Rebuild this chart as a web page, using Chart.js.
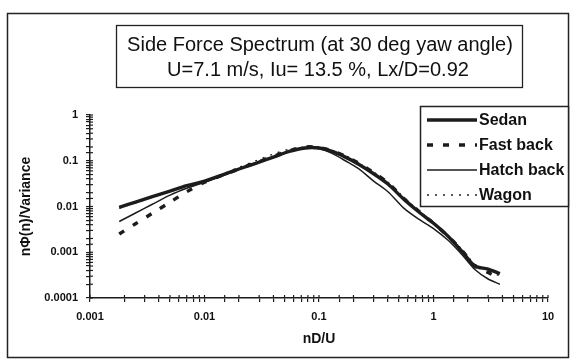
<!DOCTYPE html>
<html><head><meta charset="utf-8">
<script src="https://cdn.jsdelivr.net/npm/chart.js@4.4.0/dist/chart.umd.min.js"></script>
<style>html,body{margin:0;padding:0;background:#fff;}canvas{display:block;}</style>
</head><body>
<canvas id="c" width="571" height="361"></canvas>
<script>
const titleLines = ['Side Force Spectrum (at 30 deg yaw angle)', 'U=7.1 m/s, Iu= 13.5 %, Lx/D=0.92'];
const xTitle = 'nD/U';
const yTitle = 'nΦ(n)/Variance';
const xTickLabels = ['0.001', '0.01', '0.1', '1', '10'];
const yTickLabels = ['0.0001', '0.001', '0.01', '0.1', '1'];
const seriesNames = ['Sedan', 'Fast back', 'Hatch back', 'Wagon'];

const xValues = [0.0018, 0.0025, 0.0035, 0.005, 0.007, 0.01, 0.014, 0.02, 0.028, 0.04, 0.055, 0.075, 0.1, 0.13, 0.17, 0.22, 0.3, 0.4, 0.55, 0.75, 1.0, 1.35, 1.8, 2.3, 3.0, 3.8];
const sedan = [0.0096, 0.0125, 0.0164, 0.0218, 0.0285, 0.036, 0.048, 0.066, 0.088, 0.12, 0.16, 0.19, 0.19, 0.16, 0.12, 0.085, 0.052, 0.031, 0.0145, 0.0075, 0.0043, 0.0022, 0.001, 0.0005, 0.00043, 0.00034];
const fastBack = [0.0025, 0.0042, 0.0071, 0.0124, 0.021, 0.034, 0.047, 0.066, 0.09, 0.125, 0.165, 0.2, 0.195, 0.165, 0.125, 0.09, 0.055, 0.033, 0.015, 0.0078, 0.0043, 0.0022, 0.00105, 0.0005, 0.00036, 0.00027];
const hatchBack = [0.0047, 0.0072, 0.0112, 0.0177, 0.025, 0.034, 0.046, 0.065, 0.087, 0.12, 0.16, 0.185, 0.185, 0.145, 0.1, 0.068, 0.036, 0.021, 0.0092, 0.0052, 0.0033, 0.0018, 0.00085, 0.00042, 0.00026, 0.0002];
const wagon = [0.0092, 0.012, 0.0158, 0.021, 0.028, 0.036, 0.05, 0.072, 0.1, 0.14, 0.18, 0.2, 0.2, 0.17, 0.13, 0.09, 0.057, 0.034, 0.016, 0.008, 0.0045, 0.0023, 0.0011, 0.00055, 0.0004, 0.0003];

const FONT = '"Liberation Sans", Arial, Helvetica, sans-serif';
const INK = '#1c1c1c';
const pts = arr => xValues.map((x, i) => ({x: x, y: arr[i]}));

function decadeLabel(val, labels, minExp) {
  const lg = Math.log10(val);
  const r = Math.round(lg);
  if (Math.abs(lg - r) < 1e-6) return labels[r - minExp] || '';
  return '';
}

const framePlugin = {
  id: 'frameTitleLegend',
  afterDraw(chart) {
    const ctx = chart.ctx;
    ctx.save();
    ctx.strokeStyle = INK; ctx.lineWidth = 1.2; ctx.setLineDash([]);
    const xs = chart.scales.x, ys = chart.scales.y;
    const ca = chart.chartArea;
    xs.ticks.forEach(t => {
      const p = xs.getPixelForValue(t.value);
      ctx.beginPath(); ctx.moveTo(p, ca.bottom); ctx.lineTo(p, ca.bottom - 3); ctx.stroke();
    });
    ys.ticks.forEach(t => {
      const p = ys.getPixelForValue(t.value);
      ctx.beginPath(); ctx.moveTo(ca.left, p); ctx.lineTo(ca.left + 3, p); ctx.stroke();
    });
    ctx.lineWidth = 1.5; ctx.strokeStyle = '#222';
    ctx.strokeRect(7.5, 13.5, 561, 344);
    ctx.fillStyle = '#fff';
    ctx.fillRect(116, 25, 407, 63);
    ctx.lineWidth = 1.3;
    ctx.strokeRect(116.5, 25.5, 406, 62);
    ctx.fillStyle = '#111';
    ctx.font = '20px ' + FONT;
    ctx.textAlign = 'center'; ctx.textBaseline = 'alphabetic';
    ctx.fillText(titleLines[0], 320, 51);
    ctx.fillText(titleLines[1], 318, 76);
    const lx = 420, ly = 106, lw = 149, lh = 101;
    ctx.fillStyle = '#fff';
    ctx.fillRect(lx, ly, lw, lh);
    ctx.lineWidth = 1.5; ctx.strokeStyle = '#222';
    ctx.strokeRect(lx + 0.5, ly + 0.5, lw - 1, lh - 1);
    ctx.font = 'bold 16px ' + FONT;
    ctx.textAlign = 'left'; ctx.textBaseline = 'middle';
    chart.data.datasets.forEach((ds, i) => {
      const cy = 120 + i * 25;
      ctx.strokeStyle = ds.borderColor;
      ctx.lineWidth = ds.legendWidth || ds.borderWidth;
      ctx.setLineDash(ds.borderDash || []);
      ctx.beginPath(); ctx.moveTo(427, cy); ctx.lineTo(477, cy); ctx.stroke();
      ctx.setLineDash([]);
      ctx.fillStyle = '#111';
      ctx.fillText(ds.label, 479, cy + 1);
    });
    ctx.restore();
  }
};

const common = {pointRadius: 0, pointHoverRadius: 0, fill: false, tension: 0.3, borderColor: INK, borderCapStyle: 'butt'};

new Chart(document.getElementById('c'), {
  type: 'line',
  data: {
    datasets: [
      Object.assign({}, common, {label: seriesNames[0], data: pts(sedan), borderWidth: 3.4, order: 1}),
      Object.assign({}, common, {label: seriesNames[1], data: pts(fastBack), borderWidth: 3.4, borderDash: [6, 10], order: 2}),
      Object.assign({}, common, {label: seriesNames[2], data: pts(hatchBack), borderWidth: 1.5, order: 3}),
      Object.assign({}, common, {label: seriesNames[3], data: pts(wagon), borderWidth: 1.3, borderDash: [2, 6], legendWidth: 1.5, order: 4})
    ]
  },
  options: {
    responsive: false,
    animation: false,
    devicePixelRatio: 1,
    layout: {padding: {left: 10, top: 115, right: 23, bottom: 4}},
    plugins: {legend: {display: false}, title: {display: false}, tooltip: {enabled: false}},
    scales: {
      x: {
        type: 'logarithmic', min: 0.001, max: 10,
        afterFit: s => { s.height = 59; },
        border: {display: true, color: INK, width: 1.5},
        grid: {display: true, drawOnChartArea: false, drawTicks: true, tickLength: 4, color: INK, lineWidth: 1.2},
        ticks: {autoSkip: false, maxRotation: 0, padding: 8, color: '#111',
                font: {family: FONT, size: 11, weight: 'bold'},
                callback: v => decadeLabel(v, xTickLabels, -3)},
        title: {display: true, text: xTitle, color: '#111', padding: {top: 0, bottom: 9},
                font: {family: FONT, size: 14, weight: 'bold'}}
      },
      y: {
        type: 'logarithmic', min: 0.0001, max: 1,
        afterFit: s => { s.width = 80; },
        border: {display: true, color: INK, width: 1.5},
        grid: {display: true, drawOnChartArea: false, drawTicks: true, tickLength: 4, color: INK, lineWidth: 1.2},
        ticks: {autoSkip: false, padding: 8, color: '#111',
                font: {family: FONT, size: 11, weight: 'bold'},
                callback: v => decadeLabel(v, yTickLabels, -4)},
        title: {display: true, text: yTitle, color: '#111', padding: {top: 8, bottom: 0},
                font: {family: FONT, size: 14, weight: 'bold'}}
      }
    }
  },
  plugins: [framePlugin]
});
</script>
</body></html>
